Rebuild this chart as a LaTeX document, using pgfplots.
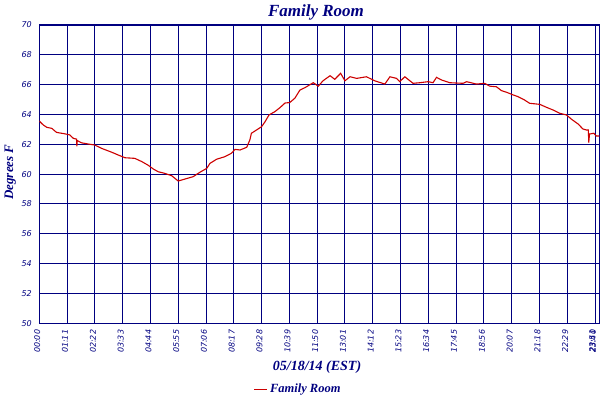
\documentclass[border=0pt]{standalone}
\usepackage{fontspec}
\setmainfont{Liberation Serif}
\newfontfamily\tickfont{DejaVu Sans}
\usepackage{pgfplots}
\pgfplotsset{compat=1.18}
\definecolor{navy}{RGB}{0,0,128}
\definecolor{tempred}{RGB}{204,0,0}

\begin{document}
\begin{tikzpicture}
\useasboundingbox (0,0) rectangle (600bp,400bp);
\begin{axis}[
    at={(39.3bp,76.7bp)}, anchor=south west,
    scale only axis,
    width=560bp, height=298.3bp,
    xmin=0, xmax=1431,
    ymin=50, ymax=70,
    ytick={50,52,...,70},
    xtick={0,71,142,213,284,355,426,497,568,639,710,781,852,923,994,1065,1136,1207,1278,1349,1420},
    xticklabels={00:00,01:11,02:22,03:33,04:44,05:55,07:06,08:17,09:28,10:39,11:50,13:01,14:12,15:23,16:34,17:45,18:56,20:07,21:18,22:29,23:40},
    extra x ticks={1431},
    extra x tick labels={23:51},
    extra x tick style={xticklabel style={yshift=5bp}},
    major tick length=0pt,
    grid=major,
    grid style={navy, line width=1bp},
    axis line style={navy, line width=1.2bp},
    tick label style={font=\tickfont\itshape\fontsize{8bp}{9bp}\selectfont, text=navy},
    /pgf/number format/assume math mode=true,
    xticklabel style={rotate=90, anchor=east, xshift=-3bp, yshift=2bp},
    yticklabel style={anchor=east, xshift=-4bp},
    title={Family Room},
    title style={at={(rel axis cs:0.494,1)}, anchor=base, yshift=3bp,
        font=\bfseries\itshape\fontsize{17bp}{20bp}\selectfont, text=navy},
    xlabel={05/18/14 (EST)},
    xlabel style={at={(rel axis cs:0.496,0)}, anchor=base, yshift=-47bp,
        font=\bfseries\itshape\fontsize{14bp}{16bp}\selectfont, text=navy},
    ylabel={Degrees F},
    ylabel style={at={(rel axis cs:0,0.507)}, anchor=center, yshift=29bp,
        font=\bfseries\itshape\fontsize{13bp}{15bp}\selectfont, text=navy},
    legend style={draw=none, fill=none, at={(rel axis cs:0.462,0)}, anchor=center,
        yshift=-66bp, font=\bfseries\itshape\fontsize{12.5bp}{14bp}\selectfont,
        text=navy, legend cell align=left},
    legend image code/.code={\draw[#1, line width=1.5bp] (0bp,0bp) -- (13bp,0bp);},
]
\addplot[color=tempred, line width=1.1bp] coordinates {
(0,63.56)(10,63.3)(19,63.14)(32,63.07)(44,62.8)(66,62.7)(78,62.63)(87,62.4)
(95,62.35)(96,61.86)(97,62.25)(108,62.1)(125,62.02)(142,61.95)(159,61.73)
(185,61.47)(202,61.28)(219,61.1)(244,61.06)(262,60.84)(278,60.6)(291,60.35)
(304,60.16)(321,60.05)(338,59.9)(355,59.54)(372,59.67)(393,59.83)(410,60.12)
(428,60.39)(436,60.72)(453,61.0)(474,61.17)(491,61.4)(500,61.66)(513,61.62)
(530,61.8)(538,62.29)(542,62.74)(555,62.96)(568,63.18)(577,63.52)(587,63.97)
(602,64.19)(615,64.46)(628,64.77)(640,64.8)(653,65.09)(666,65.64)(679,65.8)
(700,66.13)(713,65.9)(725,66.26)(743,66.6)(755,66.36)(770,66.76)(781,66.26)
(794,66.53)(811,66.42)(836,66.53)(857,66.26)(883,66.04)(896,66.53)(913,66.42)
(921,66.2)(934,66.53)(955,66.09)(972,66.13)(994,66.2)(1006,66.13)(1015,66.49)
(1028,66.31)(1049,66.13)(1083,66.09)(1092,66.2)(1117,66.04)(1138,66.09)
(1151,65.9)(1168,65.86)(1181,65.6)(1194,65.49)(1211,65.31)(1223,65.2)
(1240,64.97)(1253,64.75)(1279,64.68)(1296,64.48)(1313,64.3)(1330,64.08)
(1347,63.97)(1360,63.68)(1377,63.36)(1389,63.03)(1398,62.96)(1403,62.96)
(1404,62.11)(1406,62.69)(1417,62.74)(1423,62.56)(1431,62.56)
};
\legend{Family Room}
\end{axis}
\end{tikzpicture}
\end{document}
